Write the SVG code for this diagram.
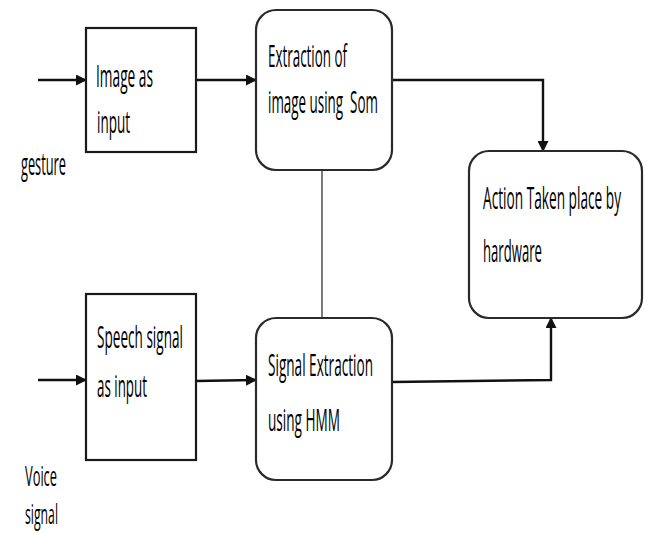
<svg xmlns="http://www.w3.org/2000/svg" width="647" height="533" viewBox="0 0 647 533">
<style>
text{font-family:"Open Sans","Noto Sans",sans-serif;font-size:31px;fill:#000;}
.sm{font-size:27px;}
.box{fill:#fff;stroke:#1a1a1a;stroke-width:2.2;}
.rbox{fill:#fff;stroke:#2a2a2a;stroke-width:2.2;}
.conn{fill:none;stroke:#111;stroke-width:2.4;}
.thin{fill:none;stroke:#333;stroke-width:1.3;}
</style>
<defs>
<marker id="ah" markerWidth="11" markerHeight="11" refX="10" refY="5.5" orient="auto" markerUnits="userSpaceOnUse">
<path d="M0,0 L11,5.5 L0,11 Z" fill="#111"/>
</marker>
</defs>
<rect width="647" height="533" fill="#fff"/>
<g id="connectors">
<line class="conn" x1="38" y1="80" x2="86" y2="80" marker-end="url(#ah)"/>
<line class="conn" x1="196" y1="80" x2="256" y2="80" marker-end="url(#ah)"/>
<polyline class="conn" points="392,80 543,80 543,151" marker-end="url(#ah)"/>
<line class="thin" x1="322" y1="170" x2="322" y2="318"/>
<line class="conn" x1="38" y1="380" x2="86" y2="380" marker-end="url(#ah)"/>
<line class="conn" x1="196" y1="381" x2="256" y2="380" marker-end="url(#ah)"/>
<polyline class="conn" points="392,382 551,380 551,318" marker-end="url(#ah)"/>
</g>
<g id="image-input">
<rect class="box" x="86" y="28" width="110" height="124"/>
<text transform="translate(96,87) scale(0.45,1)" textLength="126.7" lengthAdjust="spacingAndGlyphs">Image as</text>
<text transform="translate(97,133) scale(0.45,1)" textLength="73.3" lengthAdjust="spacingAndGlyphs">input</text>
</g>
<g id="gesture">
<text transform="translate(21,175) scale(0.45,1)" textLength="100" lengthAdjust="spacingAndGlyphs">gesture</text>
</g>
<g id="extraction-som">
<rect class="rbox" x="256" y="10" width="136" height="160" rx="20" ry="20"/>
<text transform="translate(268,67) scale(0.45,1)" textLength="175.6" lengthAdjust="spacingAndGlyphs">Extraction of</text>
<text transform="translate(268,113) scale(0.45,1)" textLength="244.4" lengthAdjust="spacingAndGlyphs" xml:space="preserve">image using  Som</text>
</g>
<g id="action">
<rect class="rbox" x="469" y="151" width="173" height="167" rx="20" ry="20"/>
<text transform="translate(483,209) scale(0.45,1)" textLength="306.7" lengthAdjust="spacingAndGlyphs">Action Taken place by</text>
<text transform="translate(483,262) scale(0.45,1)" textLength="131.1" lengthAdjust="spacingAndGlyphs">hardware</text>
</g>
<g id="speech-input">
<rect class="box" x="86" y="294" width="110" height="166"/>
<text transform="translate(97,348) scale(0.45,1)" textLength="191.1" lengthAdjust="spacingAndGlyphs">Speech signal</text>
<text transform="translate(97,397) scale(0.45,1)" textLength="111.1" lengthAdjust="spacingAndGlyphs">as input</text>
</g>
<g id="signal-hmm">
<rect class="rbox" x="256" y="318" width="136" height="162" rx="20" ry="20"/>
<text transform="translate(268,376) scale(0.45,1)" textLength="233.3" lengthAdjust="spacingAndGlyphs">Signal Extraction</text>
<text transform="translate(268,431) scale(0.45,1)" textLength="160" lengthAdjust="spacingAndGlyphs">using HMM</text>
</g>
<g id="voice-signal">
<text class="sm" transform="translate(25,486) scale(0.45,1)" textLength="71.1" lengthAdjust="spacingAndGlyphs">Voice</text>
<text class="sm" transform="translate(25,524) scale(0.45,1)" textLength="73.3" lengthAdjust="spacingAndGlyphs">signal</text>
</g>
</svg>
